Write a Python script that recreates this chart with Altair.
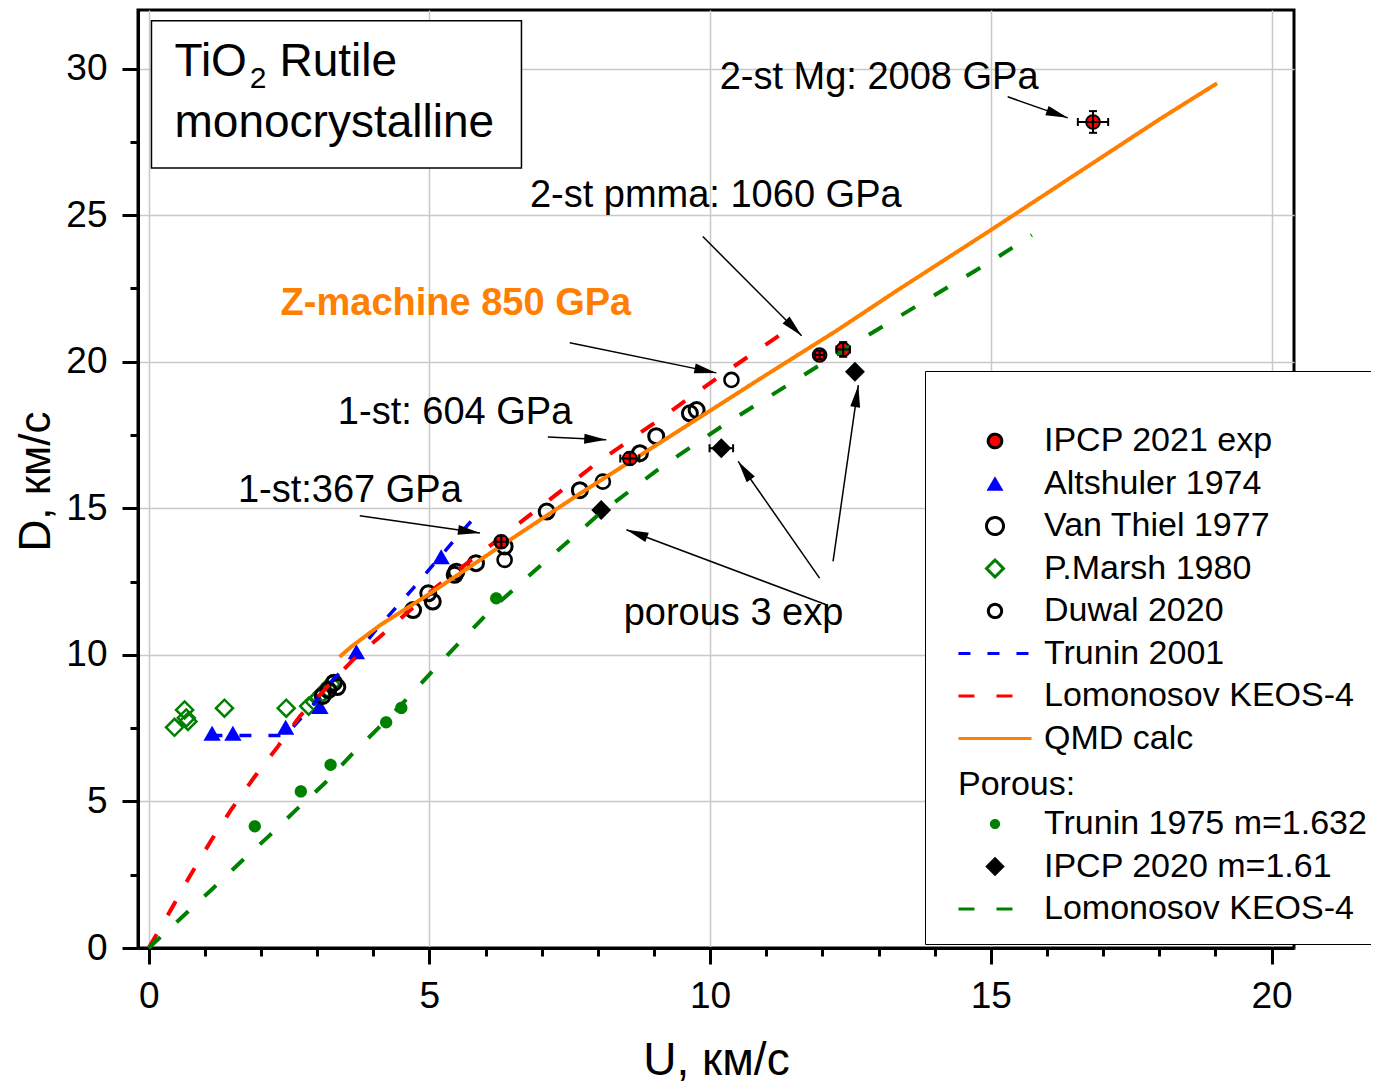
import math
import altair as alt
import pandas as pd

FONT = "Liberation Sans"

# ---------------- axis ranges / plot size ----------------
U_MIN, U_MAX = -0.19, 20.40
D_MIN, D_MAX = 0.0, 32.0
W, H = 1156, 938

# ---------------- monocrystalline rutile data ----------------
ipcp21_u = [6.28, 8.57, 11.95, 12.37, 16.82]
ipcp21_d = [13.86, 16.70, 20.23, 20.42, 28.18]
ipcp21_eu = [0.10, 0.17, 0.08, 0.12, 0.27]
ipcp21_ed = [0.20, 0.20, 0.15, 0.25, 0.37]

alt74_u = [1.13, 1.50, 2.44, 3.05, 3.70, 5.21]
alt74_d = [7.33, 7.33, 7.53, 8.24, 10.11, 13.35]

vt77_u = [3.10, 3.20, 3.30, 3.36, 4.71, 4.98, 5.06, 5.45, 5.48, 5.83, 6.34, 7.09, 7.68, 8.75, 9.04, 9.64, 9.76]
vt77_d = [8.60, 8.80, 9.05, 8.90, 11.53, 12.10, 11.82, 12.73, 12.84, 13.13, 13.70, 14.89, 15.62, 16.88, 17.46, 18.24, 18.35]

marsh_u = [0.46, 0.64, 0.70, 0.67, 1.35, 2.45, 2.85, 2.95, 3.03, 3.10, 3.18, 3.25]
marsh_d = [7.53, 8.12, 7.73, 7.85, 8.18, 8.18, 8.25, 8.40, 8.55, 8.70, 8.85, 9.00]

duwal_u = [6.34, 8.09, 10.38]
duwal_d = [13.24, 15.91, 19.38]

tr01_u = [1.10, 2.45, 2.60, 2.93, 3.28, 3.58, 4.00, 4.71, 5.42, 5.74]
tr01_d = [7.25, 7.25, 7.60, 8.30, 9.15, 9.72, 10.74, 12.27, 13.86, 14.55]

keos_u = [0.0, 0.43, 0.73, 1.12, 1.47, 1.89, 2.30, 2.69, 3.20, 3.64, 4.12, 5.13, 6.37, 7.98, 9.08, 10.20, 11.24]
keos_d = [0.0, 1.42, 2.44, 3.69, 4.72, 5.85, 6.87, 7.90, 8.95, 9.83, 10.62, 12.33, 14.15, 16.54, 18.01, 19.55, 20.91]

qmd_u = [3.40, 3.61, 4.12, 5.00, 6.30, 7.68, 9.47, 10.89, 12.26, 13.33, 14.99, 16.89, 18.02, 19.03]
qmd_d = [9.93, 10.28, 11.01, 12.08, 13.75, 15.50, 17.68, 19.42, 21.07, 22.43, 24.48, 26.87, 28.29, 29.50]

# ---------------- porous rutile data ----------------
tr75_u = [1.89, 2.71, 3.24, 4.23, 4.50, 6.19]
tr75_d = [4.15, 5.34, 6.25, 7.70, 8.19, 11.93]

ipcp20_u = [8.06, 10.20, 12.58]
ipcp20_d = [14.94, 17.05, 19.66]
ipcp20_eu = [0.0, 0.21, 0.0]
ipcp20_ed = [0.0, 0.15, 0.0]

keosp_u = [0.0, 0.61, 1.12, 1.62, 2.13, 2.63, 3.14, 3.61, 4.09, 4.53, 5.30, 6.10, 7.03, 8.04, 9.16, 10.29, 11.48, 12.67, 13.85, 15.04, 15.73]
keosp_d = [0.0, 1.08, 1.99, 2.90, 3.80, 4.72, 5.63, 6.59, 7.50, 8.36, 9.95, 11.55, 13.13, 14.83, 16.45, 17.90, 19.32, 20.74, 22.10, 23.47, 24.32]

# ---------------- annotations ----------------
note_text = ["2-st Mg: 2008 GPa", "2-st pmma: 1060 GPa", "1-st: 604 GPa", "1-st:367 GPa", "porous 3 exp"]
note_u = [10.17, 6.79, 3.37, 1.59, 8.46]
note_d = [29.30, 25.29, 17.86, 15.23, 11.03]

zmach_text = ["Z-machine 850 GPa"]
zmach_u = [2.35]
zmach_d = [21.58]

arrow_u0 = [15.30, 9.87, 7.50, 7.11, 3.76, 12.07, 11.95, 12.19]
arrow_d0 = [29.04, 24.27, 20.65, 17.43, 14.75, 11.71, 12.62, 13.19]
arrow_u1 = [16.37, 11.63, 10.11, 8.15, 5.90, 8.51, 10.50, 12.64]
arrow_d1 = [28.32, 20.89, 19.62, 17.34, 14.16, 14.27, 16.60, 19.20]

box_u = [0.05, 6.64]
box_d = [26.61, 31.63]
box_text = ["TiO", "2", "Rutile", "monocrystalline"]
box_text_u = [0.46, 1.80, 2.33, 0.46]
box_text_d = [29.74, 29.34, 29.74, 27.68]
box_text_size = [46, 30, 46, 46]

# ---------------- legend definitions ----------------
LINE = "M-4.3,0L4.3,0"
CIRC_S = "M-0.8,0A0.8,0.8 0 1,0 0.8,0A0.8,0.8 0 1,0 -0.8,0Z"
CIRC_D = "M-0.78,0A0.78,0.78 0 1,0 0.78,0A0.78,0.78 0 1,0 -0.78,0Z"
DOT = "M-0.6,0A0.6,0.6 0 1,0 0.6,0A0.6,0.6 0 1,0 -0.6,0Z"
DIAM = "M-1.15,0L0,-1.15L1.15,0L0,1.15Z"

A_DOMAIN = ["IPCP 2021 exp", "Altshuler 1974", "Van Thiel 1977", "P.Marsh 1980", "Duwal 2020",
            "Trunin 2001", "Lomonosov KEOS-4", "QMD calc", " ", "  ", "   ", "    "]
A_FILL = ["#ff0000", "#0000ff", "transparent", "transparent", "transparent",
          "transparent", "transparent", "transparent", "transparent", "transparent", "transparent", "transparent"]
A_STROKE = ["black", "transparent", "black", "#008000", "black",
            "#0000ff", "#ff0000", "#ff8000", "transparent", "transparent", "transparent", "transparent"]
A_SHAPE = [CIRC_S, "triangle-up", "circle", "diamond", CIRC_D, LINE, LINE, LINE,
           "circle", "circle", "circle", "circle"]
A_DASH = [[1, 0], [1, 0], [1, 0], [1, 0], [1, 0], [12, 17], [16, 22], [1, 0],
          [1, 0], [1, 0], [1, 0], [1, 0]]

B_DOMAIN = ["Trunin 1975 m=1.632", "IPCP 2020 m=1.61", "Lomonosov KEOS-4"]
B_FILL = ["#008000", "black", "transparent"]
B_STROKE = ["transparent", "transparent", "#008000"]
B_SHAPE = [DOT, DIAM, LINE]
B_DASH = [[1, 0], [1, 0], [16, 22]]

common_leg = dict(orient="none", labelFontSize=34, labelFont=FONT, labelColor="black", labelLimit=700,
                  rowPadding=8.5, symbolSize=289, symbolStrokeWidth=3, symbolOpacity=1, labelOffset=32)
legA = alt.Legend(legendX=787, legendY=361, padding=18, title=" ", titleFontSize=26, titlePadding=9,
                  symbolOffset=35, fillColor="white", strokeColor="black", **common_leg)
legB = alt.Legend(legendX=787, legendY=724.5, padding=33, title="Porous:", titleFont=FONT,
                  titleFontSize=34, titleFontWeight="normal", titleColor="black", titlePadding=5.5,
                  titleAnchor="start", symbolOffset=20, **common_leg)

# ---------------- helpers ----------------
xs = alt.Scale(domain=[U_MIN, U_MAX], nice=False, zero=False)
ys = alt.Scale(domain=[D_MIN, D_MAX], nice=False, zero=False)


def frame(u, d, series=None, **extra):
    df = pd.DataFrame({"U": u, "D": d})
    if series is not None:
        df["series"] = series
    for k, v in extra.items():
        df[k] = v
    return df


def XY():
    return dict(x=alt.X("U:Q", scale=xs, axis=None), y=alt.Y("D:Q", scale=ys, axis=None))


def enc_pts(dom, fill_r, stroke_r, shape_r, leg):
    return dict(
        fill=alt.Fill("series:N", scale=alt.Scale(domain=dom, range=fill_r), legend=leg),
        stroke=alt.Stroke("series:N", scale=alt.Scale(domain=dom, range=stroke_r), legend=leg),
        shape=alt.Shape("series:N", scale=alt.Scale(domain=dom, range=shape_r), legend=leg),
    )


def enc_line(dom, stroke_r, dash_r, leg):
    return dict(
        stroke=alt.Stroke("series:N", scale=alt.Scale(domain=dom, range=stroke_r), legend=leg),
        strokeDash=alt.StrokeDash("series:N", scale=alt.Scale(domain=dom, range=dash_r), legend=leg),
    )


def ptsA(u, d, name, size, sw):
    return alt.Chart(frame(u, d, name)).mark_point(size=size, strokeWidth=sw, opacity=1).encode(
        **XY(), **enc_pts(A_DOMAIN, A_FILL, A_STROKE, A_SHAPE, legA))


def lineA(u, d, name, sw):
    return alt.Chart(frame(u, d, name)).mark_line(strokeWidth=sw).encode(
        **XY(), **enc_line(A_DOMAIN, A_STROKE, A_DASH, legA))


def ptsB(u, d, name, size):
    return alt.Chart(frame(u, d, name)).mark_point(size=size, strokeWidth=0, opacity=1).encode(
        **XY(), **enc_pts(B_DOMAIN, B_FILL, B_STROKE, B_SHAPE, legB))


def lineB(u, d, name, sw):
    return alt.Chart(frame(u, d, name)).mark_line(strokeWidth=sw).encode(
        **XY(), **enc_line(B_DOMAIN, B_STROKE, B_DASH, legB))


# ---------------- axes (major + minor ticks) ----------------
axis_common = dict(tickColor="black", tickWidth=3, domainColor="black", domainWidth=3)
x_major = alt.Axis(orient="bottom", values=[0, 5, 10, 15, 20], format="d", tickSize=16,
                   labelFont=FONT, labelFontSize=37, labelColor="black", labelPadding=14,
                   grid=True, gridColor="#c8c8c8", gridWidth=1.5, domain=True,
                   title="U, км/с", titleFont=FONT, titleFontSize=46, titleFontWeight="normal",
                   titleColor="black", titleY=126, titleBaseline="alphabetic", **axis_common)
y_major = alt.Axis(orient="left", values=[0, 5, 10, 15, 20, 25, 30], format="d", tickSize=16,
                   labelFont=FONT, labelFontSize=37, labelColor="black", labelPadding=15,
                   grid=True, gridColor="#c8c8c8", gridWidth=1.5, domain=True,
                   title="D, км/с", titleFont=FONT, titleFontSize=44, titleFontWeight="normal",
                   titleColor="black", titleAngle=270, titleX=-89, titleY=471,
                   titleBaseline="alphabetic", titleAlign="center", **axis_common)
x_minor = alt.Axis(orient="bottom", values=[1, 2, 3, 4, 6, 7, 8, 9, 11, 12, 13, 14, 16, 17, 18, 19],
                   tickSize=8, labels=False, grid=False, domain=False, title=None, **axis_common)
y_minor = alt.Axis(orient="left", values=[2.5, 7.5, 12.5, 17.5, 22.5, 27.5],
                   tickSize=8, labels=False, grid=False, domain=False, title=None, **axis_common)

qmd_df = frame(qmd_u, qmd_d, "QMD calc")
axes_major = alt.Chart(qmd_df).mark_point(opacity=0, size=1).encode(
    x=alt.X("U:Q", scale=xs, axis=x_major), y=alt.Y("D:Q", scale=ys, axis=y_major))
axes_minor = alt.Chart(qmd_df).mark_point(opacity=0, size=1).encode(
    x=alt.X("U:Q", scale=xs, axis=x_minor), y=alt.Y("D:Q", scale=ys, axis=y_minor))

# ---------------- monocrystal group (legend A) ----------------
innerA = alt.layer(
    ptsA(marsh_u, marsh_d, "P.Marsh 1980", 289, 2.5),
    ptsA(alt74_u, alt74_d, "Altshuler 1974", 300, 0),
    ptsA(vt77_u, vt77_d, "Van Thiel 1977", 225, 3),
    ptsA(duwal_u, duwal_d, "Duwal 2020", 324, 2.6),
    lineA(tr01_u, tr01_d, "Trunin 2001", 3.5),
    lineA(keos_u, keos_d, "Lomonosov KEOS-4", 4),
    lineA(qmd_u, qmd_d, "QMD calc", 4),
    ptsA(ipcp21_u, ipcp21_d, "IPCP 2021 exp", 300, 1.8),
)

# ---------------- porous group (legend B) ----------------
innerB = alt.layer(
    ptsB(tr75_u, tr75_d, "Trunin 1975 m=1.632", 420),
    ptsB(ipcp20_u, ipcp20_d, "IPCP 2020 m=1.61", 300),
    lineB(keosp_u, keosp_d, "Lomonosov KEOS-4", 4),
)

# ---------------- error bars ----------------
err_df = pd.concat([
    frame(ipcp21_u, ipcp21_d, eu=ipcp21_eu, ed=ipcp21_ed),
    frame(ipcp20_u, ipcp20_d, eu=ipcp20_eu, ed=ipcp20_ed),
], ignore_index=True)
err_df = err_df[(err_df.eu > 0) | (err_df.ed > 0)].reset_index(drop=True)
err_df["ul"] = err_df.U - err_df.eu
err_df["uh"] = err_df.U + err_df.eu
err_df["dl"] = err_df.D - err_df.ed
err_df["dh"] = err_df.D + err_df.ed

xbar = alt.Chart(err_df).mark_rule(color="black", strokeWidth=2).encode(
    x=alt.X("ul:Q", scale=xs, axis=None), x2="uh:Q", y=alt.Y("D:Q", scale=ys, axis=None))
ybar = alt.Chart(err_df).mark_rule(color="black", strokeWidth=2).encode(
    x=alt.X("U:Q", scale=xs, axis=None), y=alt.Y("dl:Q", scale=ys, axis=None), y2="dh:Q")
caps_rows = []
for _, r in err_df.iterrows():
    caps_rows += [
        {"U": r.ul, "D": r.D, "ang": 90}, {"U": r.uh, "D": r.D, "ang": 90},
        {"U": r.U, "D": r.dl, "ang": 0}, {"U": r.U, "D": r.dh, "ang": 0},
    ]
caps = alt.Chart(pd.DataFrame(caps_rows)).mark_point(
    shape="stroke", size=64, color="black", strokeWidth=2, opacity=1).encode(
    **XY(), angle=alt.Angle("ang:Q", scale=None))

# ---------------- arrows ----------------
PXU = W / (U_MAX - U_MIN)
PXD = H / (D_MAX - D_MIN)
arr = pd.DataFrame({"u0": arrow_u0, "d0": arrow_d0, "U": arrow_u1, "D": arrow_d1})
arr["ang"] = [
    (math.degrees(math.atan2((u1 - u0) * PXU, (d1 - d0) * PXD)) + 360) % 360
    for u0, d0, u1, d1 in zip(arrow_u0, arrow_d0, arrow_u1, arrow_d1)
]
arrow_lines = alt.Chart(arr).mark_rule(color="black", strokeWidth=1.5).encode(
    x=alt.X("u0:Q", scale=xs, axis=None), y=alt.Y("d0:Q", scale=ys, axis=None), x2="U:Q", y2="D:Q")
arrow_heads = alt.Chart(arr).mark_point(
    shape="M0,0L0.45,2L-0.45,2Z", size=484, filled=True, color="black", opacity=1).encode(
    **XY(), angle=alt.Angle("ang:Q", scale=None))

# ---------------- texts ----------------
notes = alt.Chart(frame(note_u, note_d, txt=note_text)).mark_text(
    align="left", baseline="alphabetic", font=FONT, fontSize=38, color="black").encode(
    **XY(), text="txt:N")
zmach = alt.Chart(frame(zmach_u, zmach_d, txt=zmach_text)).mark_text(
    align="left", baseline="alphabetic", font=FONT, fontSize=38, fontWeight="bold",
    color="#ff8000").encode(**XY(), text="txt:N")

box = alt.Chart(pd.DataFrame({"u0": [box_u[0]], "u1": [box_u[1]], "d0": [box_d[0]], "d1": [box_d[1]]})
                ).mark_rect(fill="white", stroke="black", strokeWidth=1.5).encode(
    x=alt.X("u0:Q", scale=xs, axis=None), x2="u1:Q",
    y=alt.Y("d0:Q", scale=ys, axis=None), y2="d1:Q")
box_txt = alt.Chart(frame(box_text_u, box_text_d, txt=box_text, fs=box_text_size)).mark_text(
    align="left", baseline="alphabetic", font=FONT, color="black").encode(
    **XY(), text="txt:N", size=alt.Size("fs:Q", scale=None))

chart = alt.layer(
    axes_major, axes_minor, innerA, innerB,
    xbar, ybar, caps, arrow_lines, arrow_heads, notes, zmach, box, box_txt,
).resolve_scale(
    fill="independent", stroke="independent", shape="independent", strokeDash="independent"
).resolve_axis(
    x="independent", y="independent"
).properties(
    width=W, height=H,
    padding={"left": 130, "top": 2, "right": 77, "bottom": 145},
    autosize=alt.AutoSizeParams(type="none"),
    background="white",
).configure_view(
    stroke="black", strokeWidth=3
)

chart.save("out.html", embed_options={"renderer": "svg", "actions": False})
